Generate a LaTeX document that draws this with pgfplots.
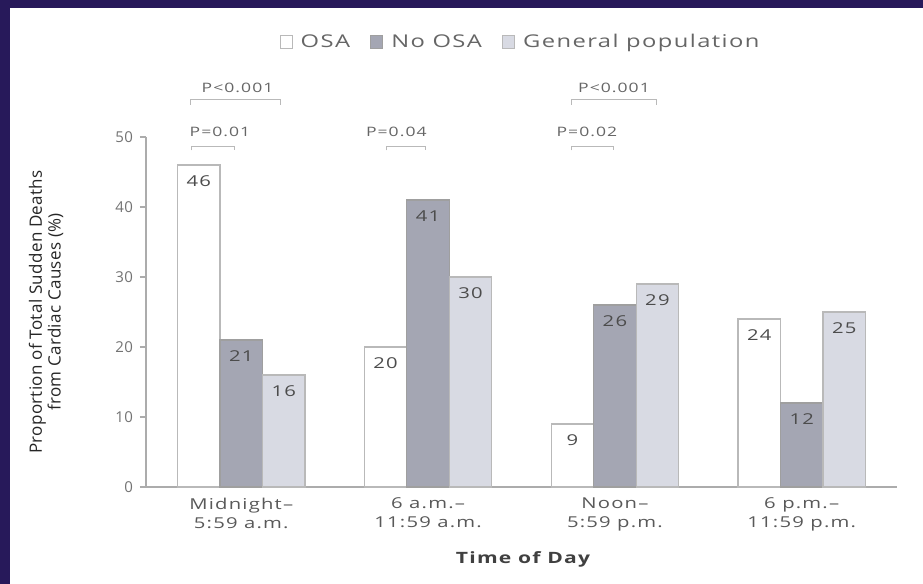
\documentclass[border=0pt]{standalone}
\usepackage{pgfplots}
\pgfplotsset{compat=1.18}
\usepackage{fontspec}
\setmainfont{Open Sans}[FakeStretch=1.35, LetterSpace=8.0]
\newfontfamily\plainfont{Open Sans}[LetterSpace=2.0]
\definecolor{navybg}{HTML}{27195A}
\definecolor{noosa}{HTML}{A4A6B3}
\definecolor{genpop}{HTML}{D8DAE3}
\begin{document}
\begin{tikzpicture}
\fill[navybg] (0,0) rectangle (461.5pt,292pt);
\fill[white] (5pt,0) rectangle (461.5pt,288pt);
\begin{axis}[
  at={(73pt,48.5pt)}, anchor=south west,
  scale only axis, width=375.5pt, height=175pt,
  xmin=-0.51, xmax=3.51, ymin=0, ymax=50,
  ybar=0pt, bar width=21.25pt,
  axis x line*=bottom, axis y line*=left,
  axis line style={gray!65, line width=0.6pt},
  xtick={0,1,2,3},
  xticklabels={{Midnight–\\5:59 a.m.},{6 a.m.–\\11:59 a.m.},{Noon–\\5:59 p.m.},{6 p.m.–\\11:59 p.m.}},
  x tick label style={align=center, font=\fontsize{7.5}{9.5}\selectfont, text=black!65, yshift=1pt},
  x tick style={draw=none},
  ytick={0,10,...,50},
  y tick label style={font=\plainfont\fontsize{7.5}{9}\selectfont, text=black!55},
  y tick style={gray!65, line width=0.6pt},
  tick align=outside, major tick length=3pt,
  /pgf/number format/assume math mode=true,
  ylabel={Proportion of Total Sudden Deaths\\from Cardiac Causes (\%)},
  every axis y label/.style={at={(axis description cs:-0.133,0.5)}, rotate=90, anchor=center, align=center, font=\plainfont\fontsize{8.5}{9.3}\selectfont, text=black!85},
  xlabel={Time of Day},
  every axis x label/.style={at={(axis description cs:0.502,-0.208)}, anchor=center, font=\fontsize{7.8}{10}\selectfont\bfseries, text=black!75},
  legend style={at={(0.5,1.271)}, anchor=center, draw=none, fill=none, legend columns=3, font=\fontsize{8.8}{10}\selectfont, text=black!60, /tikz/every odd column/.append style={column sep=2pt}, /tikz/every even column/.append style={column sep=8pt}},
  legend image code/.code={\draw[#1] (0pt,-3.2pt) rectangle (6pt,3.2pt);},
  nodes near coords,
  every node near coord/.append style={yshift=-14.4pt, font=\fontsize{7.5}{9}\selectfont, text=black!70},
  clip=false,
]
\addplot[draw=gray!55, fill=white, line width=0.6pt] coordinates {(0,46) (1,20) (2,9) (3,24)};
\addplot[draw=gray!75, fill=noosa, line width=0.6pt] coordinates {(0,21) (1,41) (2,26) (3,12)};
\addplot[draw=gray!55, fill=genpop, line width=0.6pt] coordinates {(0,16) (1,30) (2,29) (3,25)};
\legend{OSA, No OSA, General population}
% significance brackets
\draw[gray!55, line width=0.5pt] (axis cs:-0.27,54.6) -- (axis cs:-0.27,55.4) -- (axis cs:0.21,55.4) -- (axis cs:0.21,54.6);
\node[font=\fontsize{6.5}{8}\selectfont, text=black!60] at (axis cs:-0.02,57.0) {P<0.001};
\draw[gray!55, line width=0.5pt] (axis cs:-0.264,48.1) -- (axis cs:-0.264,48.7) -- (axis cs:-0.034,48.7) -- (axis cs:-0.034,48.1);
\node[font=\fontsize{6.5}{8}\selectfont, text=black!60] at (axis cs:-0.114,50.7) {P=0.01};
\draw[gray!55, line width=0.5pt] (axis cs:0.776,48.1) -- (axis cs:0.776,48.7) -- (axis cs:0.985,48.7) -- (axis cs:0.985,48.1);
\node[font=\fontsize{6.5}{8}\selectfont, text=black!60] at (axis cs:0.83,50.7) {P=0.04};
\draw[gray!55, line width=0.5pt] (axis cs:1.77,54.6) -- (axis cs:1.77,55.4) -- (axis cs:2.225,55.4) -- (axis cs:2.225,54.6);
\node[font=\fontsize{6.5}{8}\selectfont, text=black!60] at (axis cs:1.995,57.0) {P<0.001};
\draw[gray!55, line width=0.5pt] (axis cs:1.77,48.1) -- (axis cs:1.77,48.7) -- (axis cs:1.995,48.7) -- (axis cs:1.995,48.1);
\node[font=\fontsize{6.5}{8}\selectfont, text=black!60] at (axis cs:1.85,50.7) {P=0.02};
\end{axis}
\end{tikzpicture}
\end{document}
